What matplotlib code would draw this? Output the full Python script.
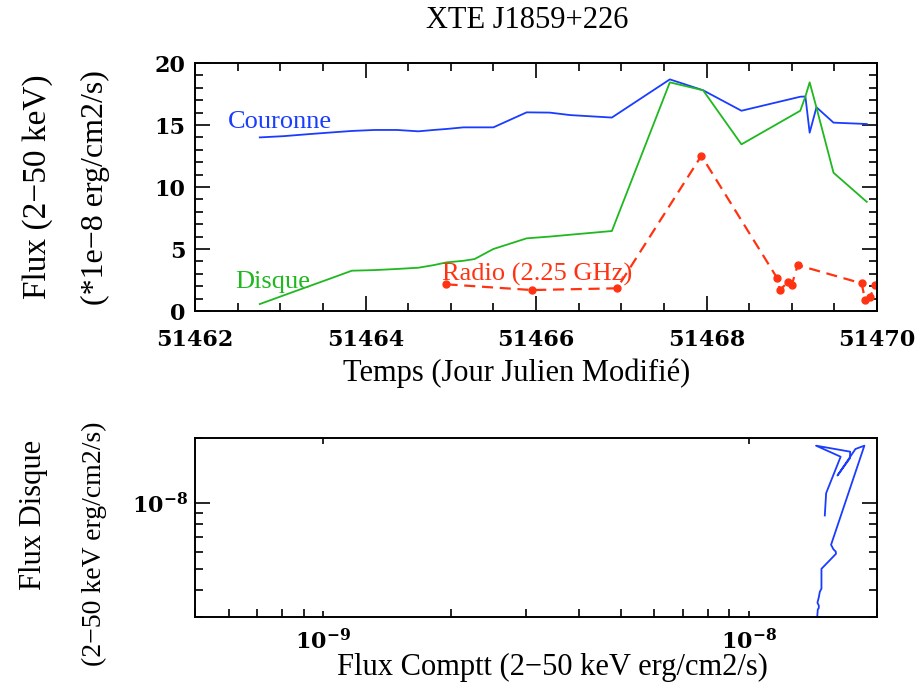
import numpy as np
import matplotlib
matplotlib.use("Agg")
import matplotlib.pyplot as plt
from matplotlib.ticker import MultipleLocator, LogLocator, FuncFormatter, NullFormatter

# Data (MJD, flux in units of 1e-9 erg/cm2/s)
temps = [51462.76, 51463.04, 51463.31, 51463.56, 51463.84, 51464.11, 51464.37,
         51464.62, 51464.80, 51464.95, 51465.15, 51465.28, 51465.50, 51465.89,
         51466.16, 51466.40, 51466.89, 51467.57, 51467.96, 51468.41, 51469.10,
         51469.16, 51469.21, 51469.29, 51469.49, 51469.88]
couronne = [14.0, 14.1, 14.25, 14.38, 14.52, 14.6, 14.6,
            14.49, 14.6, 14.68, 14.81, 14.81, 14.81, 16.02,
            16.0, 15.8, 15.6, 18.68, 17.8, 16.15, 17.28,
            17.3, 14.38, 16.43, 15.19, 15.08]
disque = [0.56, 1.26, 1.93, 2.55, 3.25, 3.3, 3.39,
          3.49, 3.7, 3.92, 4.05, 4.19, 5.0, 5.86,
          6.0, 6.15, 6.45, 18.44, 17.8, 13.44, 16.15,
          17.3, 18.44, 16.4, 11.15, 8.8]

temps_radio = [51464.95, 51465.95, 51466.95, 51467.94, 51468.83, 51468.86,
               51468.96, 51469.0, 51469.07, 51469.82, 51469.86, 51469.92, 51469.98]
radio = [2.15, 1.69, 1.83, 12.52, 2.64, 1.69, 2.36, 2.1, 3.7, 2.23, 0.89, 1.15, 2.1]

blue = '#1a3cff'
green = '#1fb81f'
red = '#ff3311'

serif = 'Liberation Serif'
plt.rcParams['mathtext.fontset'] = 'dejavuserif'
plt.rcParams['mathtext.default'] = 'bf'
plt.rcParams['font.family'] = 'DejaVu Serif'
plt.rcParams['font.weight'] = 'bold'

W, H = 919, 688
fig = plt.figure(figsize=(W / 100, H / 100), dpi=100)

def box(l, t, r, b):
    return [l / W, 1 - b / H, (r - l) / W, (b - t) / H]

# ---- top panel: flux vs time
ax1 = fig.add_axes(box(195, 63, 877, 311))
ax1.plot(temps, couronne, color=blue, lw=1.3)
ax1.plot(temps, disque, color=green, lw=1.3)
ax1.plot(temps_radio, radio, color=red, lw=1.6, ls=(0, (5, 3)),
         marker='o', ms=5)
ax1.set_xlim(51462, 51470)
ax1.set_ylim(0, 20)
ax1.xaxis.set_major_locator(MultipleLocator(2))
ax1.xaxis.set_minor_locator(MultipleLocator(0.5))
ax1.yaxis.set_major_locator(MultipleLocator(5))
ax1.yaxis.set_minor_locator(MultipleLocator(1))
ax1.xaxis.set_major_formatter(FuncFormatter(lambda v, p: f"{int(v)}"))
ax1.tick_params(which='both', direction='in', top=True, right=True, width=1.2,
                labelsize=16)
ax1.tick_params(which='major', length=11)
ax1.tick_params(which='minor', length=6)
ax1.tick_params(axis='x', which='major', pad=13)
ax1.tick_params(axis='y', which='major', pad=7)
for s in ax1.spines.values():
    s.set_linewidth(1.4)

ax1.text(51462.39, 14.75, 'Couronne', color=blue, family=serif, weight='normal',
         fontsize=19, va='baseline')
ax1.text(51462.47, 1.85, 'Disque', color=green, family=serif, weight='normal',
         fontsize=19, va='baseline')
ax1.text(51464.90, 2.42, 'Radio (2.25 GHz)', color=red, family=serif, weight='normal',
         fontsize=19, va='baseline')

# ---- bottom panel: disc flux vs comptonised flux
ax2 = fig.add_axes(box(195, 438, 877, 617))
ax2.plot(np.array(couronne) * 1e-9, np.array(disque) * 1e-9, color=blue, lw=1.3)
ax2.set_xscale('log')
ax2.set_yscale('log')
ax2.set_xlim(5e-10, 2e-8)
ax2.set_ylim(3e-9, 2e-8)
fmt = FuncFormatter(lambda v, p: r'$\mathbf{10^{%d}}$' % round(np.log10(v)))
ax2.xaxis.set_major_locator(LogLocator(base=10))
ax2.yaxis.set_major_locator(LogLocator(base=10))
ax2.xaxis.set_minor_locator(LogLocator(base=10, subs=np.arange(2, 10)))
ax2.yaxis.set_minor_locator(LogLocator(base=10, subs=np.arange(2, 10)))
ax2.xaxis.set_major_formatter(fmt)
ax2.yaxis.set_major_formatter(fmt)
ax2.xaxis.set_minor_formatter(NullFormatter())
ax2.yaxis.set_minor_formatter(NullFormatter())
ax2.tick_params(which='both', direction='in', right=True, width=1.2, labelsize=16)
ax2.tick_params(which='major', top=True, length=11, pad=9)
ax2.tick_params(which='minor', top=False, length=6)
ax2.tick_params(axis='x', which='major', length=4)
ax2.tick_params(axis='y', which='major', pad=5)
for s in ax2.spines.values():
    s.set_linewidth(1.4)

# ---- titles and axis labels
lab = dict(family=serif, weight='normal', ha='center', va='center')
fig.text(527 / W, 1 - 20 / H, 'XTE J1859+226', fontsize=22, **lab)
fig.text(517 / W, 1 - 373 / H, 'Temps (Jour Julien Modifié)', fontsize=22, **lab)
fig.text(38 / W, 1 - 187 / H, 'Flux (2\u221250 keV)', fontsize=24, rotation=90, **lab)
fig.text(95 / W, 1 - 188 / H, '(*1e\u22128 erg/cm2/s)', fontsize=23, rotation=90, **lab)
fig.text(34 / W, 1 - 515 / H, 'Flux Disque', fontsize=22, rotation=90, **lab)
fig.text(94 / W, 1 - 544 / H, '(2\u221250 keV erg/cm2/s)', fontsize=20, rotation=90, **lab)
fig.text(552 / W, 1 - 667 / H, 'Flux Comptt (2\u221250 keV erg/cm2/s)', fontsize=22, **lab)

fig.savefig('out.png', dpi=100)
